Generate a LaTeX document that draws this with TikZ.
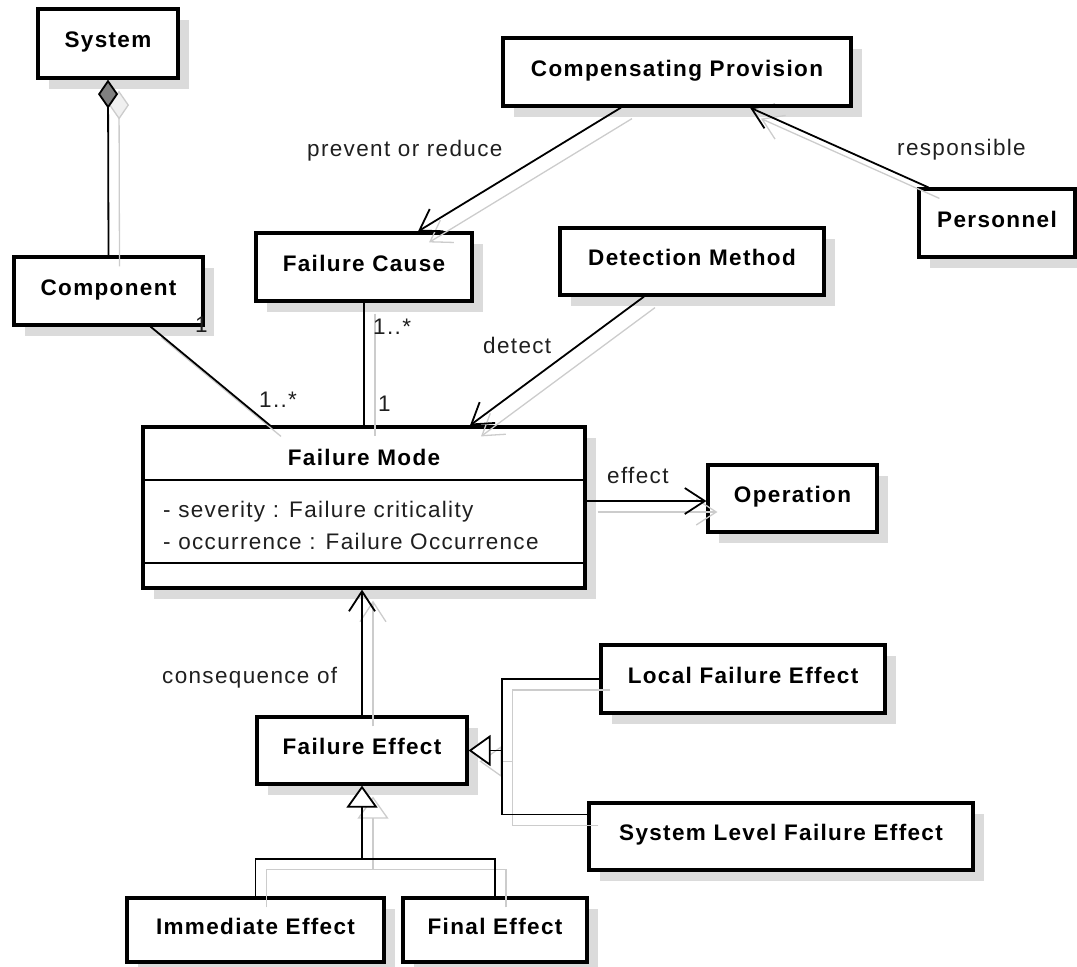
\documentclass[tikz,border=0pt]{standalone}
\usepackage{fontspec}
\setmainfont[LetterSpace=6]{Liberation Sans}
\usetikzlibrary{arrows.meta,shadows}
\definecolor{boxshade}{gray}{0.86}
\definecolor{lineshade}{gray}{0.80}
\definecolor{labelink}{gray}{0.12}
\begin{document}
\begin{tikzpicture}[x=1pt,y=-1pt,
  every node/.style={font=\fontsize{22.5pt}{27pt}\selectfont},
  umlclass/.style={draw, line width=3.2pt, fill=white, inner sep=0pt,
    font=\fontsize{22.5pt}{27pt}\selectfont\bfseries,
    text height=14pt, text depth=6pt,
    drop shadow={shadow xshift=11pt, shadow yshift=-11pt, opacity=1, fill=boxshade}},
  shadelayer/.style={color=lineshade, line width=1.3pt,
    transform canvas={xshift=11pt, yshift=-11pt}},
  linklayer/.style={color=black, line width=1.8pt},
  nav/.style={-{Straight Barb[length=20pt,width=26pt]}},
  gen/.style={-{Triangle[open,length=22pt,width=31pt,fill=white]}},
  genshade/.style={-{Triangle[open,length=22pt,width=31pt]}},
  composite/.style={{Diamond[length=29pt,width=20pt,fill=gray]}-},
  compositeshade/.style={{Diamond[open,length=29pt,width=20pt,fill=black!6]}-},
  lbl/.style={anchor=base west, inner sep=0pt, text=labelink}
]
\useasboundingbox (0,0) rectangle (1077,967);

% classes
\node[umlclass, minimum width=140pt, minimum height=69pt] (system) at (108,43.5) {System};
\node[umlclass, minimum width=189pt, minimum height=68pt] (component) at (108.5,291) {Component};
\node[umlclass, minimum width=348pt, minimum height=68pt] (provision) at (677,72) {Compensating Provision};
\node[umlclass, minimum width=156pt, minimum height=68pt] (personnel) at (997,223) {Personnel};
\node[umlclass, minimum width=216pt, minimum height=68pt] (cause) at (364,267) {Failure Cause};
\node[umlclass, minimum width=264pt, minimum height=67pt] (detection) at (692,261.5) {Detection Method};
\node[umlclass, minimum width=442pt, minimum height=161pt] (mode) at (364,507.5) {};
\node[umlclass, minimum width=169pt, minimum height=67pt] (operation) at (792.5,498.5) {Operation};
\node[umlclass, minimum width=284pt, minimum height=68pt] (localfx) at (743,679) {Local Failure Effect};
\node[umlclass, minimum width=210pt, minimum height=67pt] (effect) at (362,750.5) {Failure Effect};
\node[umlclass, minimum width=384pt, minimum height=67pt] (systemfx) at (781,836.5) {System Level Failure Effect};
\node[umlclass, minimum width=257pt, minimum height=64pt] (immediate) at (255.5,930) {Immediate Effect};
\node[umlclass, minimum width=184pt, minimum height=64pt] (final) at (495,930) {Final Effect};

% Failure Mode compartments
\node[anchor=base, inner sep=0pt, font=\fontsize{22.5pt}{27pt}\selectfont\bfseries] (modetitle) at (364,465) {Failure Mode};
\draw[line width=1.3pt] (mode.west |- 0,480) -- (mode.east |- 0,480);
\draw[line width=1.3pt] (mode.west |- 0,563) -- (mode.east |- 0,563);
\node[lbl] (attrseverity) at (163,517) {- severity : Failure criticality};
\node[lbl] (attroccurrence) at (163,549) {- occurrence : Failure Occurrence};

% helper points
\coordinate (opin) at ([yshift=-2.5pt]operation.west);
\coordinate (genhub) at ([yshift=-73pt]effect.south);
\coordinate (genhub2) at ([xshift=33pt]effect.east);
\coordinate (sysin) at ([yshift=-13pt]systemfx.north west);

% connector shadows
\begin{scope}[shadelayer]
  \draw[compositeshade] (system.south) -- (component.north);
  \draw ([xshift=42pt]component.south) -- ([xshift=-94pt]mode.north);
  \draw (cause.south) -- (cause.south |- mode.north);
  \draw[nav] ([xshift=-56pt]provision.south) -- ([xshift=54pt]cause.north);
  \draw[nav] ([xshift=11pt]personnel.north west) -- ([xshift=73pt]provision.south);
  \draw[nav] ([xshift=-48pt]detection.south) -- ([xshift=106pt]mode.north);
  \draw[nav] (mode.east |- opin) -- (opin);
  \draw[nav] (effect.north) -- (effect.north |- mode.south);
  \draw[genshade] (immediate.north) |- (genhub) -- (effect.south);
  \draw (final.north) |- (genhub);
  \draw[genshade] (localfx.west) -| (genhub2) -- (effect.east);
  \draw (sysin) -| (genhub2);
\end{scope}

% connectors
\begin{scope}[linklayer]
  \draw[composite] (system.south) -- (component.north);
  \draw ([xshift=42pt]component.south) -- ([xshift=-94pt]mode.north);
  \draw (cause.south) -- (cause.south |- mode.north);
  \draw[nav] ([xshift=-56pt]provision.south) -- ([xshift=54pt]cause.north);
  \draw[nav] ([xshift=11pt]personnel.north west) -- ([xshift=73pt]provision.south);
  \draw[nav] ([xshift=-48pt]detection.south) -- ([xshift=106pt]mode.north);
  \draw[nav] (mode.east |- opin) -- (opin);
  \draw[nav] (effect.north) -- (effect.north |- mode.south);
  \draw[gen] (immediate.north) |- (genhub) -- (effect.south);
  \draw (final.north) |- (genhub);
  \draw[gen] (localfx.west) -| (genhub2) -- (effect.east);
  \draw (sysin) -| (genhub2);
\end{scope}

% association labels and multiplicities
\node[lbl] (lblprevent) at (307,156) {prevent or reduce};
\node[lbl] (lblresponsible) at (897,155) {responsible};
\node[lbl] (lbldetect) at (483,353) {detect};
\node[lbl] (lbleffect) at (607,483) {effect};
\node[lbl] (lblconsequence) at (162,683) {consequence of};
\node[lbl] (multcomponent) at (259,407) {1..*};
\node[lbl] (multcause) at (373,334) {1..*};
\node[lbl] (multmode) at (378,411) {1};
\node[lbl] (multone) at (195,332) {1};
\end{tikzpicture}
\end{document}
